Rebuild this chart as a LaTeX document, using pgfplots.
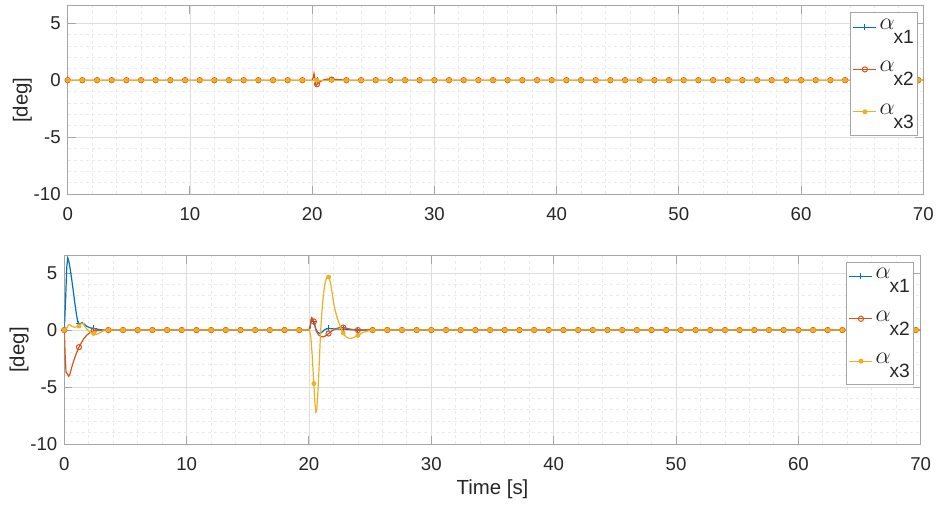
\documentclass[border=0pt]{standalone}
\usepackage{fontspec}
\setmainfont{Liberation Sans}
\usepackage{pgfplots}
\usepackage{pgfplotstable}
\pgfplotsset{compat=1.18}

\definecolor{mblue}{HTML}{0072BD}
\definecolor{morange}{HTML}{D95319}
\definecolor{myellow}{HTML}{EDB120}
\definecolor{axgray}{HTML}{A6A6A6}
\definecolor{txt}{HTML}{262626}

% marker samples (every 1.2 s)
\pgfplotstableread{
t a1 a2 a3
0 0 0 0
1.2 0 0 0
2.4 0 0 0
3.6 0 0 0
4.8 0 0 0
6.0 0 0 0
7.2 0 0 0
8.4 0 0 0
9.6 0 0 0
10.8 0 0 0
12.0 0 0 0
13.2 0 0 0
14.4 0 0 0
15.6 0 0 0
16.8 0 0 0
18.0 0 0 0
19.2 0 0 0
20.4 0 -0.35 0
21.6 0 0.05 0
22.8 0 0 0
24.0 0 0 0
25.2 0 0 0
26.4 0 0 0
27.6 0 0 0
28.8 0 0 0
30.0 0 0 0
31.2 0 0 0
32.4 0 0 0
33.6 0 0 0
34.8 0 0 0
36.0 0 0 0
37.2 0 0 0
38.4 0 0 0
39.6 0 0 0
40.8 0 0 0
42.0 0 0 0
43.2 0 0 0
44.4 0 0 0
45.6 0 0 0
46.8 0 0 0
48.0 0 0 0
49.2 0 0 0
50.4 0 0 0
51.6 0 0 0
52.8 0 0 0
54.0 0 0 0
55.2 0 0 0
56.4 0 0 0
57.6 0 0 0
58.8 0 0 0
60.0 0 0 0
61.2 0 0 0
62.4 0 0 0
63.6 0 0 0
64.8 0 0 0
66.0 0 0 0
67.2 0 0 0
68.4 0 0 0
69.6 0 0 0
}\mktop

\pgfplotstableread{
t a1 a2 a3
0 0 0 0
1.2 0.55 -1.5 0.35
2.4 0.15 -0.08 -0.3
3.6 0 0 0
4.8 0 0 0
6.0 0 0 0
7.2 0 0 0
8.4 0 0 0
9.6 0 0 0
10.8 0 0 0
12.0 0 0 0
13.2 0 0 0
14.4 0 0 0
15.6 0 0 0
16.8 0 0 0
18.0 0 0 0
19.2 0 0 0
20.4 0.75 0.75 -4.7
21.6 0.15 -0.3 4.65
22.8 0.08 0.22 -0.25
24.0 0 0 -0.47
25.2 0 0 0
26.4 0 0 0
27.6 0 0 0
28.8 0 0 0
30.0 0 0 0
31.2 0 0 0
32.4 0 0 0
33.6 0 0 0
34.8 0 0 0
36.0 0 0 0
37.2 0 0 0
38.4 0 0 0
39.6 0 0 0
40.8 0 0 0
42.0 0 0 0
43.2 0 0 0
44.4 0 0 0
45.6 0 0 0
46.8 0 0 0
48.0 0 0 0
49.2 0 0 0
50.4 0 0 0
51.6 0 0 0
52.8 0 0 0
54.0 0 0 0
55.2 0 0 0
56.4 0 0 0
57.6 0 0 0
58.8 0 0 0
60.0 0 0 0
61.2 0 0 0
62.4 0 0 0
63.6 0 0 0
64.8 0 0 0
66.0 0 0 0
67.2 0 0 0
68.4 0 0 0
69.6 0 0 0
}\mkbot

\pgfplotsset{
  matfig/.style={
    scale only axis,
    xmin=0, xmax=70, ymin=-10, ymax=6.5,
    xtick={0,10,...,70}, ytick={-10,-5,0,5},
    minor x tick num=4, minor y tick num=4,
    grid=both,
    major grid style={draw=black!13, line width=0.4pt},
    minor grid style={draw=black!8, dash pattern=on 1.5pt off 1.5pt, line width=0.4pt},
    axis line style={draw=axgray, line width=0.5pt},
    every tick/.style={draw=axgray, line width=0.5pt},
    major tick length=4pt, minor tick length=0pt,
    tick align=inside,
    ticklabel style={font=\fontsize{9.3}{10}\selectfont, text=txt},
    /pgf/number format/assume math mode=true,
    xticklabel style={yshift=-3pt},
    ylabel={[deg]},
    label style={font=\fontsize{10.2}{11}\selectfont, text=txt},
    ylabel style={at={(axis description cs:-0.0529,0.5)}, anchor=center},
    clip mode=individual,
    legend cell align=left,
    legend image code/.code={
      \draw[##1, mark=none] (0pt,2.4pt) -- (11.5pt,2.4pt);
      \draw[##1] plot coordinates {(5.75pt,2.4pt)};
    },
    legend style={anchor=north east, draw=axgray, line width=0.5pt, fill=white,
      inner xsep=1pt, inner ysep=2.5pt, row sep=7.2pt, column sep=0.5pt,
      nodes={inner sep=0.8pt, text height=5pt, text depth=7.4pt,
        font=\fontsize{9}{10}\selectfont, text=txt}},
  },
  l1/.style={draw=mblue, line width=0.6pt},
  l2/.style={draw=morange, line width=0.6pt},
  l3/.style={draw=myellow, line width=0.6pt},
  m1/.style={only marks, mark=+, mark size=1.5pt, draw=mblue, mark options={line width=0.5pt}},
  m2/.style={only marks, mark=o, mark size=1.3pt, draw=morange, mark options={line width=0.5pt}},
  m3/.style={only marks, mark=*, mark size=1.0pt, draw=myellow, fill=myellow},
  li1/.style={draw=mblue, line width=0.5pt, mark=+, mark size=1.5pt},
  li2/.style={draw=morange, line width=0.5pt, mark=o, mark size=1.3pt},
  li3/.style={draw=myellow, line width=0.5pt, mark=*, mark size=1.0pt, fill=myellow},
}

\newcommand{\ax}[1]{{\fontsize{11.5}{12}\selectfont$\alpha$}\kern-0.5pt\raisebox{-7pt}{\fontsize{9.6}{10}\selectfont x#1}}

\begin{document}
\begin{tikzpicture}[x=1pt,y=1pt]
\useasboundingbox (0,0) rectangle (469,252);

% top panel
\begin{axis}[matfig, at={(33.85pt,154.85pt)}, anchor=south west,
  width=427.8pt, height=94.15pt,
  legend style={at={(rel axis cs:0.9938,0.9665)}}]
\addplot[l1, forget plot] coordinates {(0,0) (70,0)};
\addplot[m1, forget plot] table[x=t, y=a1] {\mktop};
\addplot[l2, forget plot] coordinates {
(0,0)(20.0,0)(20.08,0.2)(20.15,0.58)(20.22,0.2)(20.3,-0.4)(20.35,-0.45)(20.4,-0.35)
(20.5,-0.25)(20.7,-0.1)(21.0,0.05)(21.3,0.1)(21.6,0.05)(22.0,0.05)(22.6,0.02)(23.2,0)(70,0)};
\addplot[m2, forget plot] table[x=t, y=a2] {\mktop};
\addplot[l3, forget plot] coordinates {(0,0) (70,0)};
\addplot[m3, forget plot] table[x=t, y=a3] {\mktop};
\addlegendimage{li1}
\addlegendentry{\ax{1}}
\addlegendimage{li2}
\addlegendentry{\ax{2}}
\addlegendimage{li3}
\addlegendentry{\ax{3}}
\end{axis}

% bottom panel
\begin{axis}[matfig, at={(32.15pt,30pt)}, anchor=south west,
  width=428.2pt, height=94pt,
  xlabel={Time [s]},
  xlabel style={at={(axis description cs:0.5,0)}, anchor=base, yshift=-25.3pt},
  legend style={at={(rel axis cs:0.9922,0.9697)}}]
\addplot[l1, forget plot] coordinates {
(0,0)(0.1,2.5)(0.2,5.5)(0.28,6.33)(0.36,6.1)(0.46,5.5)(0.6,4.5)(0.75,3.3)(0.87,2.3)
(1.0,1.3)(1.1,0.75)(1.2,0.55)(1.3,0.55)(1.45,0.65)(1.6,0.55)(1.8,0.35)(2.1,0.2)(2.4,0.15)
(2.7,0.08)(3.0,0.02)(3.6,0)(20.0,0)(20.1,0.2)(20.18,0.9)(20.25,0.95)(20.4,0.75)(20.55,0.1)
(20.7,-0.2)(20.9,-0.3)(21.1,-0.15)(21.3,0.05)(21.6,0.15)(22.0,0.1)(22.4,0.08)(22.8,0.08)
(23.4,0.03)(24.0,0)(70,0)};
\addplot[m1, forget plot] table[x=t, y=a1] {\mkbot};
\addplot[l2, forget plot] coordinates {
(0,0)(0.08,-2.5)(0.14,-3.7)(0.25,-3.85)(0.36,-4.06)(0.45,-3.9)(0.6,-3.3)(0.8,-2.6)(1.0,-2.0)
(1.2,-1.5)(1.4,-1.1)(1.6,-0.75)(1.84,-0.44)(2.1,-0.22)(2.4,-0.08)(2.8,-0.02)(3.6,0)(20.0,0)
(20.1,0.4)(20.2,1.1)(20.3,1.0)(20.4,0.75)(20.6,-0.1)(20.8,-0.45)(21.0,-0.58)(21.2,-0.6)
(21.4,-0.48)(21.6,-0.3)(21.9,-0.05)(22.2,0.12)(22.5,0.22)(22.8,0.22)(23.2,0.12)(23.6,0.04)
(24.0,0)(70,0)};
\addplot[m2, forget plot] table[x=t, y=a2] {\mkbot};
\addplot[l3, forget plot] coordinates {
(0,0)(0.2,0.2)(0.35,0.45)(0.46,0.48)(0.6,0.35)(0.8,0.25)(1.0,0.28)(1.2,0.35)(1.4,0.58)
(1.55,0.55)(1.75,0.2)(2.0,-0.1)(2.2,-0.25)(2.4,-0.3)(2.6,-0.38)(2.9,-0.25)(3.3,0)(20.05,0)
(20.15,-0.6)(20.25,-2.0)(20.33,-3.5)(20.4,-4.7)(20.48,-6.3)(20.56,-7.2)(20.62,-7.1)(20.7,-6.0)
(20.8,-3.9)(20.9,-1.4)(20.96,0)(21.05,1.5)(21.15,2.8)(21.25,3.7)(21.35,4.3)(21.45,4.6)
(21.55,4.68)(21.6,4.65)(21.7,4.4)(21.8,3.9)(21.9,3.2)(22.0,2.5)(22.1,1.9)(22.27,1.2)
(22.5,0.45)(22.68,0)(22.9,-0.45)(23.1,-0.65)(23.35,-0.74)(23.6,-0.68)(24.0,-0.47)
(24.4,-0.22)(24.8,-0.08)(25.3,0)(70,0)};
\addplot[m3, forget plot] table[x=t, y=a3] {\mkbot};
\addlegendimage{li1}
\addlegendentry{\ax{1}}
\addlegendimage{li2}
\addlegendentry{\ax{2}}
\addlegendimage{li3}
\addlegendentry{\ax{3}}
\end{axis}
\end{tikzpicture}
\end{document}
